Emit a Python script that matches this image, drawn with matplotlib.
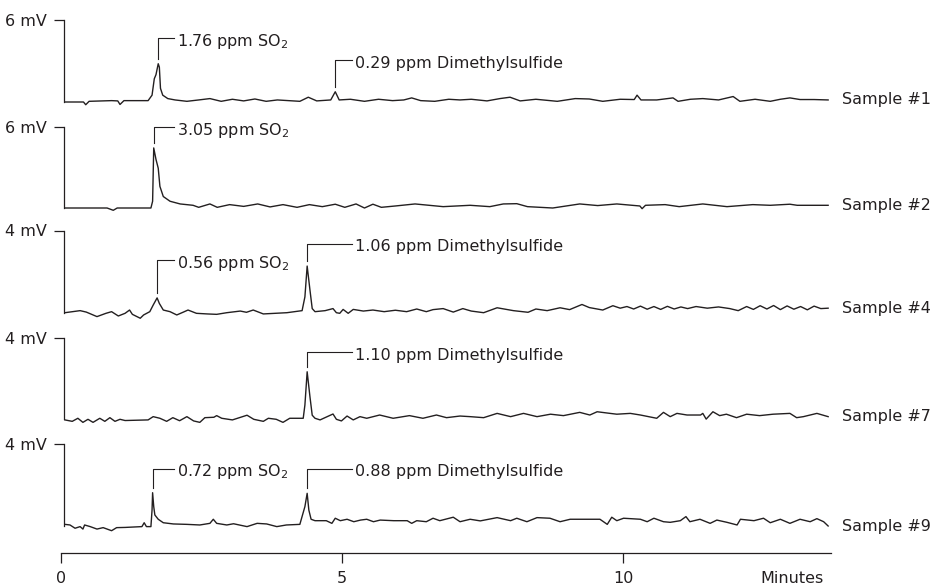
import matplotlib
matplotlib.use("Agg")
import matplotlib.pyplot as plt

plt.rcParams["font.family"] = ["DejaVu Sans"]
plt.rcParams["mathtext.fontset"] = "dejavusans"

INK = "#231f20"
FS = 11.5

# ──────────────────────────────────────────────
# data (time in minutes, signal in mV)
# ──────────────────────────────────────────────
s1_t = [0.07, 0.40, 0.44, 0.50, 0.90, 1.01, 1.05, 1.12, 1.55, 1.62, 1.66, 1.69, 1.73, 1.75,
        1.77, 1.81, 1.90, 2.03, 2.24, 2.45, 2.65, 2.85, 3.05, 3.25, 3.45, 3.65, 3.85, 4.05,
        4.25, 4.40, 4.55, 4.80, 4.88, 4.95, 5.15, 5.40, 5.65, 5.90, 6.10, 6.24, 6.40, 6.65,
        6.90, 7.10, 7.30, 7.58, 7.81, 7.99, 8.17, 8.45, 8.83, 9.15, 9.40, 9.64, 9.95, 10.20,
        10.25, 10.32, 10.60, 10.89, 10.98, 11.20, 11.42, 11.70, 11.96, 12.08, 12.35, 12.62,
        12.80, 12.97, 13.15, 13.40, 13.65]
s1_mv = [0.00, 0.00, -0.20, 0.05, 0.10, 0.08, -0.18, 0.10, 0.10, 0.50, 1.70, 2.00, 2.80, 2.55,
         1.00, 0.50, 0.25, 0.15, 0.05, 0.15, 0.25, 0.05, 0.20, 0.08, 0.22, 0.05, 0.15, 0.10,
         0.05, 0.35, 0.08, 0.15, 0.75, 0.15, 0.20, 0.05, 0.20, 0.10, 0.15, 0.30, 0.10, 0.05,
         0.20, 0.15, 0.20, 0.08, 0.25, 0.35, 0.08, 0.20, 0.05, 0.25, 0.22, 0.05, 0.20, 0.18,
         0.50, 0.15, 0.15, 0.30, 0.05, 0.20, 0.25, 0.15, 0.40, 0.05, 0.20, 0.05,
         0.20, 0.30, 0.18, 0.18, 0.15]

s2_t = [0.07, 0.82, 0.93, 1.00, 1.60, 1.63, 1.65, 1.69, 1.73, 1.76, 1.82, 1.94, 2.12, 2.35,
        2.45, 2.65, 2.78, 3.00, 3.25, 3.50, 3.72, 3.95, 4.20, 4.42, 4.65, 4.88, 5.05, 5.25,
        5.40, 5.55, 5.70, 5.95, 6.30, 6.80, 7.28, 7.63, 7.87, 8.11, 8.30, 8.75, 9.23, 9.55,
        9.89, 10.30, 10.34, 10.40, 10.75, 11.00, 11.42, 11.85, 12.31, 12.62, 12.97, 13.10, 13.65]
s2_mv = [0.00, 0.00, -0.17, 0.00, 0.00, 0.50, 4.45, 3.60, 2.95, 1.60, 0.85, 0.50, 0.30, 0.20,
         0.05, 0.30, 0.05, 0.25, 0.12, 0.30, 0.08, 0.25, 0.05, 0.25, 0.10, 0.28, 0.05, 0.30,
         0.00, 0.28, 0.05, 0.15, 0.30, 0.10, 0.20, 0.10, 0.30, 0.32, 0.10, 0.00, 0.30, 0.18,
         0.30, 0.15, -0.05, 0.20, 0.25, 0.10, 0.30, 0.10, 0.25, 0.20, 0.28, 0.20, 0.20]

s4_t = [0.07, 0.34, 0.45, 0.64, 0.80, 0.90, 1.02, 1.14, 1.22, 1.27, 1.41, 1.47, 1.58, 1.64,
        1.71, 1.75, 1.82, 1.94, 2.06, 2.17, 2.26, 2.41, 2.60, 2.77, 2.95, 3.19, 3.30, 3.42,
        3.60, 4.02, 4.29, 4.34, 4.38, 4.43, 4.47, 4.52, 4.70, 4.84, 4.90, 4.96, 5.02, 5.11,
        5.20, 5.38, 5.55, 5.75, 5.95, 6.15, 6.33, 6.50, 6.62, 6.80, 6.98, 7.15, 7.30, 7.52,
        7.76, 8.05, 8.31, 8.45, 8.65, 8.88, 9.05, 9.27, 9.40, 9.64, 9.82, 9.95, 10.07, 10.19,
        10.31, 10.43, 10.55, 10.67, 10.79, 10.91, 11.03, 11.15, 11.30, 11.50, 11.70, 11.90,
        12.05, 12.20, 12.32, 12.44, 12.56, 12.68, 12.80, 12.92, 13.04, 13.16, 13.28, 13.40,
        13.52, 13.65]
s4_mv = [0.00, 0.10, 0.03, -0.19, -0.03, 0.05, -0.16, -0.03, 0.13, -0.08, -0.27, -0.11, 0.05, 0.37,
         0.72, 0.45, 0.13, 0.05, -0.11, 0.02, 0.13, -0.03, -0.06, -0.08, 0.00, 0.08, 0.02, 0.13,
         -0.06, 0.00, 0.10, 0.77, 2.27, 1.10, 0.20, 0.05, 0.10, 0.20, 0.00, -0.03, 0.16, -0.03,
         0.16, 0.08, 0.13, 0.05, 0.12, 0.05, 0.18, 0.05, 0.15, 0.20, 0.03, 0.20, 0.08, 0.00,
         0.24, 0.10, 0.02, 0.18, 0.10, 0.24, 0.15, 0.40, 0.25, 0.13, 0.34, 0.22, 0.30, 0.18,
         0.32, 0.17, 0.30, 0.16, 0.31, 0.18, 0.28, 0.20, 0.30, 0.22, 0.28, 0.20,
         0.10, 0.30, 0.16, 0.34, 0.18, 0.35, 0.15, 0.33, 0.17, 0.30, 0.14, 0.32,
         0.20, 0.22]

s7_t = [0.07, 0.20, 0.30, 0.39, 0.48, 0.57, 0.69, 0.78, 0.87, 0.96, 1.05, 1.14, 1.55, 1.64,
        1.76, 1.88, 1.99, 2.11, 2.24, 2.36, 2.47, 2.56, 2.72, 2.77, 2.86, 3.05, 3.31, 3.43,
        3.60, 3.69, 3.83, 3.95, 4.07, 4.31, 4.34, 4.38, 4.43, 4.47, 4.52, 4.61, 4.84, 4.90,
        4.99, 5.09, 5.20, 5.32, 5.44, 5.67, 5.91, 6.20, 6.44, 6.68, 6.86, 7.10, 7.28, 7.52,
        7.76, 8.00, 8.23, 8.47, 8.71, 8.94, 9.23, 9.41, 9.54, 9.77, 9.89, 10.13, 10.31, 10.60,
        10.72, 10.84, 10.96, 11.14, 11.38, 11.42, 11.48, 11.60, 11.72, 11.84, 12.02, 12.20,
        12.43, 12.67, 12.97, 13.09, 13.21, 13.33, 13.45, 13.65]
s7_mv = [-0.03, -0.10, 0.05, -0.15, 0.00, -0.15, 0.05, -0.10, 0.08, -0.10, 0.00, -0.06, -0.03, 0.13,
         0.05, -0.10, 0.08, -0.07, 0.13, -0.08, -0.15, 0.08, 0.10, 0.18, 0.05, -0.03, 0.20, 0.00,
         -0.10, 0.05, 0.00, -0.15, 0.05, 0.05, 0.70, 2.33, 1.10, 0.20, 0.05, -0.03, 0.26, 0.00,
         -0.08, 0.16, -0.03, 0.13, 0.05, 0.21, 0.05, 0.18, 0.05, 0.21, 0.08, 0.16, 0.13, 0.08,
         0.29, 0.13, 0.29, 0.13, 0.25, 0.18, 0.34, 0.21, 0.37, 0.29, 0.25, 0.29, 0.21, 0.05,
         0.34, 0.13, 0.29, 0.21, 0.21, 0.29, 0.01, 0.37, 0.18, 0.25, 0.08, 0.25,
         0.18, 0.25, 0.29, 0.08, 0.13, 0.21, 0.29, 0.13]

s9_t = [0.07, 0.16, 0.25, 0.34, 0.39, 0.42, 0.52, 0.64, 0.75, 0.90, 0.99, 1.14, 1.44, 1.48,
        1.52, 1.60, 1.62, 1.63, 1.65, 1.67, 1.73, 1.82, 2.00, 2.24, 2.47, 2.65, 2.71, 2.77,
        2.95, 3.07, 3.31, 3.49, 3.66, 3.84, 4.01, 4.25, 4.34, 4.38, 4.41, 4.45, 4.52, 4.72,
        4.82, 4.88, 4.97, 5.09, 5.21, 5.33, 5.44, 5.56, 5.68, 5.92, 6.16, 6.24, 6.33, 6.50,
        6.62, 6.74, 6.98, 7.10, 7.22, 7.28, 7.46, 7.76, 8.00, 8.11, 8.29, 8.47, 8.70, 8.88,
        9.06, 9.59, 9.72, 9.80, 9.89, 10.01, 10.31, 10.43, 10.55, 10.72, 10.84, 11.02, 11.12,
        11.19, 11.37, 11.55, 11.67, 11.85, 12.03, 12.09, 12.33, 12.50, 12.62, 12.80, 12.97,
        13.15, 13.33, 13.45, 13.57, 13.65]
s9_mv = [0.08, 0.05, -0.11, -0.03, -0.15, 0.05, -0.03, -0.15, -0.08, -0.23, -0.08, -0.07, -0.03, 0.16,
         -0.03, -0.03, 0.78, 1.63, 0.95, 0.54, 0.33, 0.16, 0.10, 0.08, 0.05, 0.13, 0.33, 0.13,
         0.05, 0.11, -0.03, 0.13, 0.10, -0.03, 0.05, 0.08, 0.95, 1.60, 0.78, 0.33, 0.26, 0.26,
         0.13, 0.38, 0.26, 0.33, 0.21, 0.29, 0.33, 0.21, 0.29, 0.26, 0.26, 0.13, 0.26, 0.21,
         0.38, 0.26, 0.43, 0.21, 0.29, 0.33, 0.25, 0.41, 0.26, 0.38, 0.21, 0.41, 0.38, 0.21,
         0.33, 0.33, 0.08, 0.43, 0.26, 0.38, 0.33, 0.21, 0.38, 0.21, 0.18, 0.26, 0.46,
         0.21, 0.33, 0.13, 0.29, 0.18, 0.05, 0.33, 0.26, 0.38, 0.16, 0.33, 0.13,
         0.33, 0.21, 0.36, 0.21, 0.00]

sample_names = ["Sample #1", "Sample #2", "Sample #4", "Sample #7", "Sample #9"]
full_scale_mv = [6, 6, 4, 4, 4]
traces = [(s1_t, s1_mv), (s2_t, s2_mv), (s4_t, s4_mv), (s7_t, s7_mv), (s9_t, s9_mv)]

# labelled peaks: (retention time, label)
peak_labels = [
    [(1.73, r"1.76 ppm SO$_2$"), (4.88, "0.29 ppm Dimethylsulfide")],
    [(1.65, r"3.05 ppm SO$_2$")],
    [(1.71, r"0.56 ppm SO$_2$"), (4.38, "1.06 ppm Dimethylsulfide")],
    [(4.38, "1.10 ppm Dimethylsulfide")],
    [(1.63, r"0.72 ppm SO$_2$"), (4.38, "0.88 ppm Dimethylsulfide")],
]
time_ticks = [0, 5, 10]

# ──────────────────────────────────────────────
# layout (pixels of the 937x587 canvas)
# ──────────────────────────────────────────────
W, H = 937, 587
T0_PX, PX_PER_MIN = 61, 56.2
X_LEFT, X_RIGHT = 64, 831
panel_rows = [(20, 102), (127, 208), (230.5, 312.7), (337.7, 419.3), (444.3, 526)]
# height of the bracket top for each label (fraction of full scale)
label_level = [[0.78, 0.51], [1.0], [0.64, 0.84], [0.82], [0.70, 0.70]]
label_x = {"SO": 2.06, "Di": 5.23}


def tx(px):
    return (px - T0_PX) / PX_PER_MIN


fig = plt.figure(figsize=(W / 100, H / 100), dpi=100)

for i, (name, full, (t, mv)) in enumerate(zip(sample_names, full_scale_mv, traces)):
    ytop, ybot = panel_rows[i]
    ax = fig.add_axes([X_LEFT / W, 1 - ybot / H, (X_RIGHT - X_LEFT) / W, (ybot - ytop) / H])
    ax.patch.set_visible(False)
    ax.set_xlim(tx(X_LEFT), tx(X_RIGHT))
    ax.set_ylim(0, full)
    ax.plot(t, mv, color=INK, lw=1.0, clip_on=False)

    for s in ["top", "right", "bottom"]:
        ax.spines[s].set_visible(False)
    ax.spines["left"].set_color(INK)
    ax.spines["left"].set_linewidth(0.9)
    ax.set_xticks([])
    ax.set_yticks([full])
    ax.set_yticklabels([f"{full} mV"])
    ax.tick_params(axis="y", length=7.2, width=0.9, pad=5, labelsize=FS,
                   colors=INK)

    ax.text(tx(842), mv[-1], name, fontsize=FS, color=INK, va="center",
            ha="left", clip_on=False)

    for (pt, label), lvl in zip(peak_labels[i], label_level[i]):
        peak_h = max(v for tt, v in zip(t, mv) if abs(tt - pt) < 0.06)
        bottom = peak_h + 0.06 * full
        top = lvl * full
        xt = label_x[label.split(" ")[2][:2]]
        ax.plot([pt, pt, xt - 0.05], [bottom, top, top], color=INK, lw=0.8,
                clip_on=False)
        ax.annotate(label, xy=(xt, top), xytext=(0, -5.5),
                    textcoords="offset points", fontsize=FS, color=INK,
                    ha="left", va="baseline", annotation_clip=False)

# time axis
axb = fig.add_axes([T0_PX / W, 1 - 553 / H, (X_RIGHT - T0_PX) / W, 0.01])
axb.patch.set_visible(False)
for s in ["top", "right", "left"]:
    axb.spines[s].set_visible(False)
axb.spines["bottom"].set_color(INK)
axb.spines["bottom"].set_linewidth(0.9)
axb.set_xlim(0, tx(X_RIGHT))
axb.set_yticks([])
axb.set_xticks(time_ticks + [tx(792)])
axb.set_xticklabels([str(v) for v in time_ticks] + ["Minutes"])
axb.tick_params(axis="x", length=7.2, width=0.9, pad=6, labelsize=FS, colors=INK)
axb.xaxis.get_major_ticks()[-1].tick1line.set_visible(False)

fig.savefig("out.png", dpi=100)
